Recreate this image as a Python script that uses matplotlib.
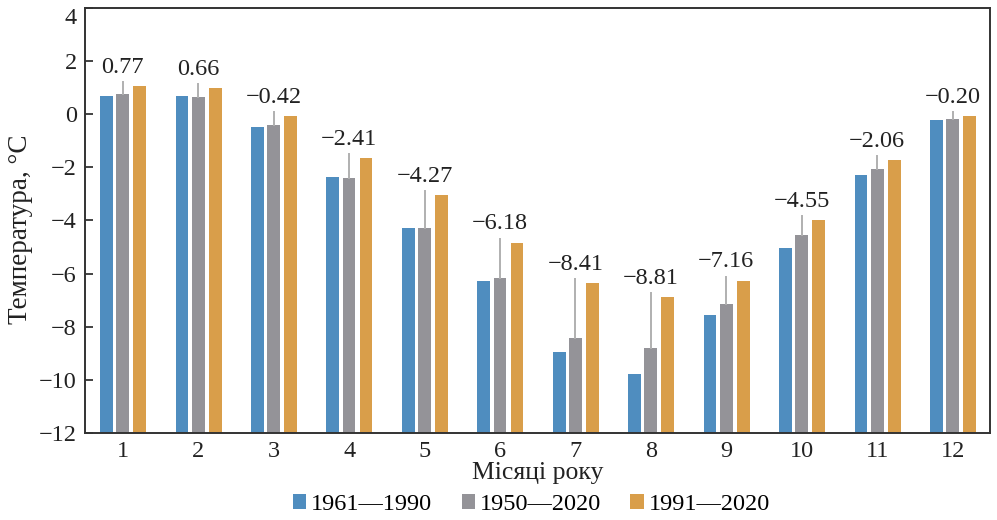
import numpy as np
import matplotlib
matplotlib.use('Agg')
import matplotlib.pyplot as plt

months = ['1', '2', '3', '4', '5', '6', '7', '8', '9', '10', '11', '12']
t_1961_1990 = [0.69, 0.69, -0.48, -2.35, -4.30, -6.29, -8.96, -9.79, -7.57, -5.02, -2.28, -0.21]
t_1950_2020 = [0.77, 0.66, -0.42, -2.41, -4.27, -6.18, -8.41, -8.81, -7.16, -4.55, -2.06, -0.20]
t_1991_2020 = [1.06, 0.99, -0.06, -1.64, -3.03, -4.83, -6.37, -6.89, -6.26, -3.97, -1.72, -0.06]
series_names = ['1961—1990', '1950—2020', '1991—2020']
colors = ['#4f8dbf', '#949398', '#d99e4a']

plt.rcParams['font.family'] = ['Liberation Serif', 'DejaVu Serif']
plt.rcParams['font.size'] = 17.5
plt.rcParams['axes.unicode_minus'] = True

fig = plt.figure(figsize=(9.97, 5.20), dpi=100)
ax = fig.add_axes([0.0853, 0.167, 0.908, 0.818])

ymin = -12
x = np.arange(1, len(months) + 1)
w = 0.17
# bars rise from the bottom of the axis, not from zero
for off, vals, col, name in zip([-0.215, 0, 0.225],
                                [t_1961_1990, t_1950_2020, t_1991_2020],
                                colors, series_names):
    ax.bar(x + off, np.array(vals) - ymin, w, bottom=ymin, color=col, label=name)

# leader lines and labels above the middle series
for xi, a, b, c in zip(x, t_1961_1990, t_1950_2020, t_1991_2020):
    top = max(a, b, c) + 0.15
    ax.plot([xi, xi], [b, top], color='#b0b0b0', lw=1.4, zorder=1)
    ax.annotate(f"{b:.2f}".replace('-', '−'), (xi, top), xytext=(0, 3),
                textcoords='offset points', ha='center', va='bottom',
                color='#222222')

ax.set_xlim(0.5, 12.5)
ax.set_ylim(ymin, 4)
ax.set_yticks(np.arange(-12, 5, 2))
ax.set_xticks(x)
ax.set_xticklabels(months)
ax.tick_params(axis='x', length=0, pad=6, colors='#222222')
ax.tick_params(axis='y', direction='in', length=6, width=1.2, pad=6, colors='#222222')
ax.get_yticklabels()[-1].set_va('top')
for s in ax.spines.values():
    s.set_color('#333333')
    s.set_linewidth(1.4)

ax.set_xlabel('Місяці року', fontsize=18.5, labelpad=0, color='#222222')
ax.set_ylabel('Температура, °C', fontsize=19.5, color='#222222')
ax.yaxis.set_label_coords(-0.058, 0.48)

ax.legend(loc='center', bbox_to_anchor=(0.493, -0.168), ncol=3, frameon=False,
          handlelength=0.55, handleheight=0.55, handletextpad=0.2, columnspacing=1.2,
          borderaxespad=0, borderpad=0)

fig.savefig('out.png', dpi=100)
